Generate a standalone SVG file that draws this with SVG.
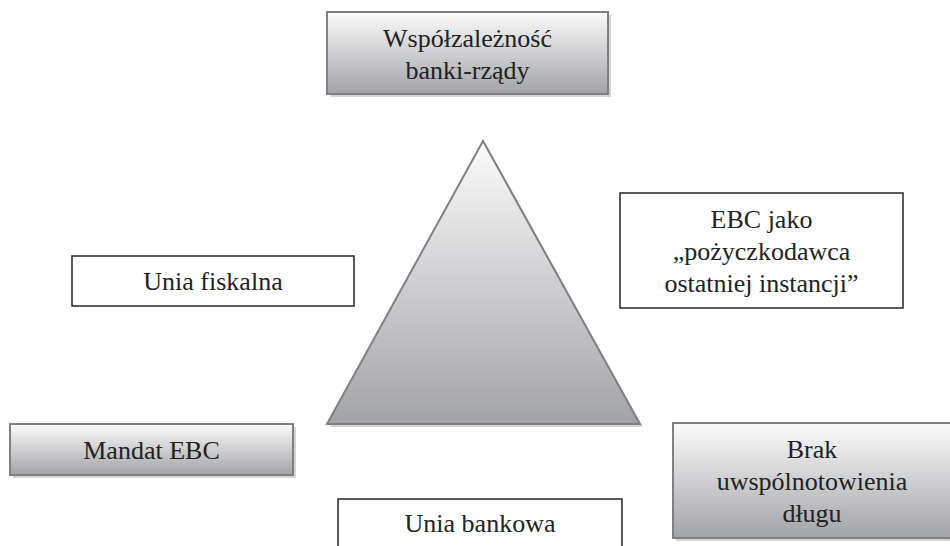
<svg xmlns="http://www.w3.org/2000/svg" width="950" height="546" viewBox="0 0 950 546">
<defs>
<linearGradient id="g" x1="0" y1="0" x2="0" y2="1">
<stop offset="0" stop-color="#fbfbfb"/>
<stop offset="1" stop-color="#a2a3a7"/>
</linearGradient>
</defs>
<style>
.sh{fill:#d4d4d4}
.gb{fill:url(#g);stroke:#808080;stroke-width:2}
.wb{fill:#fff;stroke:#333;stroke-width:1.6}
.t{font-family:"Times New Roman","Liberation Serif",Tinos,"Noto Serif","DejaVu Serif",Times,FreeSerif,serif;font-size:26px;fill:#222;text-anchor:middle}
</style>
<rect width="950" height="546" fill="#fff"/>
<g id="triangle">
<polygon points="486,144 330,427 643,427" fill="#d4d4d4"/>
<polygon points="483,141 327,424 640,424" class="gb"/>
</g>
<g id="n-wspolzaleznosc">
<rect x="330" y="15" width="281" height="82" class="sh"/>
<rect x="327" y="12" width="281" height="82" class="gb"/>
<text class="t" x="467.5" y="47">Współzależność</text>
<text class="t" x="467.5" y="79">banki-rządy</text>
</g>
<g id="n-unia-fiskalna">
<rect x="72" y="256" width="282" height="50" class="wb"/>
<text class="t" x="213" y="290">Unia fiskalna</text>
</g>
<g id="n-ebc-jako">
<rect x="620" y="193" width="283" height="115" class="wb"/>
<text class="t" x="761.5" y="228">EBC jako</text>
<text class="t" x="761.5" y="260">„pożyczkodawca</text>
<text class="t" x="761.5" y="292">ostatniej instancji”</text>
</g>
<g id="n-mandat">
<rect x="13" y="427" width="283" height="51" class="sh"/>
<rect x="10" y="424" width="283" height="51" class="gb"/>
<text class="t" x="151.5" y="459">Mandat EBC</text>
</g>
<g id="n-brak">
<rect x="676" y="426" width="280" height="115" class="sh"/>
<rect x="673" y="423" width="280" height="115" class="gb"/>
<text class="t" x="812" y="458">Brak</text>
<text class="t" x="812" y="490">uwspólnotowienia</text>
<text class="t" x="812" y="522">długu</text>
</g>
<g id="n-unia-bankowa">
<rect x="338" y="499" width="284" height="60" class="wb"/>
<text class="t" x="480" y="532">Unia bankowa</text>
</g>
<g id="connectors"></g>
</svg>
